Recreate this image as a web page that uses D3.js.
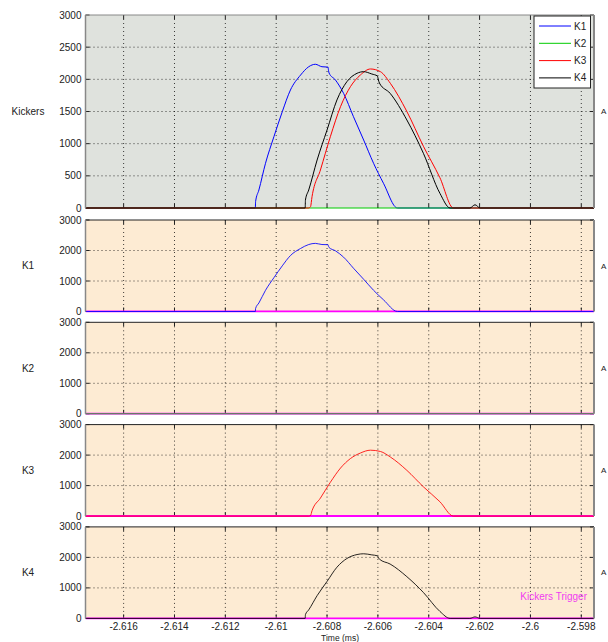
<!DOCTYPE html>
<html>
<head>
<meta charset="utf-8">
<script src="https://cdn.jsdelivr.net/npm/d3@7"></script>
<style>
  body { margin: 0; background: #fff; }
  svg text { font-family: "Liberation Sans", Arial, sans-serif; font-size: 10px; fill: #222; }
</style>
</head>
<body>
<div id="ChartContainer"></div>
<script>
// tick values
var xTicks = [-2.616, -2.614, -2.612, -2.61, -2.608, -2.606, -2.604, -2.602, -2.6, -2.598]
var kickersTicks = [0, 500, 1000, 1500, 2000, 2500, 3000]
var channelTicks = [0, 1000, 2000, 3000]
var panelLabels = ["Kickers", "K1", "K2", "K3", "K4"]
var channels = ["K1", "K2", "K3", "K4"]

// K1 trace (time in ms, value)
var k1Time = [-2.6175, -2.61082, -2.61081, -2.61068, -2.61042, -2.61009, -2.60976, -2.60944, -2.60904,
  -2.60872, -2.60846, -2.60820, -2.60796, -2.60794, -2.60792, -2.60767, -2.60735, -2.60696, -2.60656,
  -2.60617, -2.60578, -2.60523, -2.5975]
var k1Value = [0, 0, 100, 280, 695, 1108, 1497, 1834, 2067,
  2196, 2234, 2196, 2190, 2134, 2098, 1990, 1783, 1419, 1057,
  695, 384, 0, 0]

// K2 trace: flat
var k2Time = [-2.6175, -2.5975]
var k2Value = [0, 0]

// K3 trace
var k3Time = [-2.6175, -2.60872, -2.60865, -2.60859, -2.60826, -2.60787, -2.60747, -2.60708, -2.60669,
  -2.60629, -2.60590, -2.60551, -2.60486, -2.60421, -2.60356, -2.60303, -2.5975]
var k3Value = [0, 0, 20, 176, 591, 1108, 1575, 1886, 2067,
  2161, 2119, 1938, 1500, 960, 470, 0, 0]

// K4 trace
var k4Time = [-2.6175, -2.60886, -2.60885, -2.60872, -2.60839, -2.60800, -2.60761, -2.60722, -2.60682,
  -2.60656, -2.60624, -2.60602, -2.60598, -2.60594, -2.60552, -2.60486, -2.60421, -2.60356, -2.60316,
  -2.60238, -2.60218, -2.60198, -2.5975]
var k4Value = [0, 0, 124, 280, 746, 1212, 1679, 1963, 2094,
  2119, 2083, 2052, 1990, 1943, 1783, 1368, 850, 228, 0,
  0, 50, 0, 0]

// Kickers trigger
var triggerTime = [-2.6175, -2.5975]
var triggerValue = [0, 0]

var traces = {
  K1: { time: k1Time, value: k1Value, color: "#0000ff" },
  K2: { time: k2Time, value: k2Value, color: "#00cc00" },
  K3: { time: k3Time, value: k3Value, color: "#ff0000" },
  K4: { time: k4Time, value: k4Value, color: "#000000" },
}
var trigger = { time: triggerTime, value: triggerValue, color: "#ff00ff" }

var fullWidth = 608
var fullHeight = 642
var plotLeft = 85.5
var plotRight = 594
var tickLen = 4

var svg = d3.select("#ChartContainer").append("svg")
  .attr("width", fullWidth)
  .attr("height", fullHeight)

var x = d3.scaleLinear()
  .domain([-2.6175, -2.5975])
  .range([plotLeft, plotRight])

var toPoints = tr => tr.time.map((t, i) => [t, tr.value[i]])

var panels = panelLabels.map((label, i) => {
  if (i === 0) return { label: label, top: 15, height: 193, ticks: kickersTicks, bg: "#dfe2dd" }
  return { label: label, top: 220 + (i - 1) * 102.3, height: 91.5, ticks: channelTicks, bg: "#fdebd3" }
})

panels.forEach((p, i) => {
  var y = d3.scaleLinear()
    .domain([0, 3000])
    .range([p.top + p.height, p.top])

  var g = svg.append("g").attr("class", "Panel")

  g.append("rect")
    .attr("x", plotLeft)
    .attr("y", p.top)
    .attr("width", plotRight - plotLeft)
    .attr("height", p.height)
    .attr("fill", p.bg)

  // dotted grid
  g.selectAll(".GridX")
    .data(xTicks)
    .enter().append("line")
    .attr("x1", d => x(d)).attr("x2", d => x(d))
    .attr("y1", p.top).attr("y2", p.top + p.height)
    .attr("stroke", "#000")
    .attr("stroke-opacity", 0.75)
    .attr("stroke-dasharray", "1,3")
  g.selectAll(".GridY")
    .data(p.ticks.slice(1, -1))
    .enter().append("line")
    .attr("x1", plotLeft).attr("x2", plotRight)
    .attr("y1", d => y(d)).attr("y2", d => y(d))
    .attr("stroke", "#000")
    .attr("stroke-opacity", 0.75)
    .attr("stroke-dasharray", "1,3")

  // inward tick marks
  xTicks.forEach(d => {
    g.append("line")
      .attr("x1", x(d)).attr("x2", x(d))
      .attr("y1", p.top).attr("y2", p.top + tickLen)
      .attr("stroke", "#222")
    g.append("line")
      .attr("x1", x(d)).attr("x2", x(d))
      .attr("y1", p.top + p.height).attr("y2", p.top + p.height - tickLen)
      .attr("stroke", "#222")
  })
  p.ticks.forEach(d => {
    g.append("line")
      .attr("x1", plotLeft).attr("x2", plotLeft + tickLen)
      .attr("y1", y(d)).attr("y2", y(d))
      .attr("stroke", "#222")
    g.append("line")
      .attr("x1", plotRight).attr("x2", plotRight - tickLen)
      .attr("y1", y(d)).attr("y2", y(d))
      .attr("stroke", "#222")
  })

  // clip for traces
  var clipId = "clip" + i
  svg.append("clipPath").attr("id", clipId)
    .append("rect")
    .attr("x", plotLeft)
    .attr("y", p.top - 1)
    .attr("width", plotRight - plotLeft)
    .attr("height", p.height + 2)

  var line = d3.line()
    .x(d => x(d[0]))
    .y(d => y(d[1]))
    .curve(d3.curveMonotoneX)

  var traceG = g.append("g").attr("clip-path", `url(#${clipId})`)
  var shown = i === 0 ? channels : [channels[i - 1]]
  if (i > 0) {
    traceG.append("path")
      .datum(toPoints(trigger))
      .attr("d", line)
      .attr("fill", "none")
      .attr("stroke", trigger.color)
      .attr("stroke-width", 2)
  }
  shown.forEach(k => {
    traceG.append("path")
      .datum(toPoints(traces[k]))
      .attr("d", line)
      .attr("fill", "none")
      .attr("stroke", traces[k].color)
      .attr("stroke-width", 1)
      .attr("stroke-opacity", i > 0 ? 0.85 : 1)
  })

  // frame
  g.append("line")
    .attr("x1", plotLeft).attr("x2", plotRight)
    .attr("y1", p.top).attr("y2", p.top)
    .attr("stroke", i === 0 ? "#888" : "#222")
  g.append("line")
    .attr("x1", plotLeft).attr("x2", plotLeft)
    .attr("y1", p.top).attr("y2", p.top + p.height)
    .attr("stroke", "#888").attr("stroke-width", 1.5)
  g.append("line")
    .attr("x1", plotRight).attr("x2", plotRight)
    .attr("y1", p.top).attr("y2", p.top + p.height)
    .attr("stroke", "#888").attr("stroke-width", 2)

  // y tick labels
  g.selectAll(".YLabel")
    .data(p.ticks)
    .enter().append("text")
    .attr("x", plotLeft - 4)
    .attr("y", d => y(d))
    .attr("dy", "0.35em")
    .attr("text-anchor", "end")
    .text(d => d)

  // panel label
  g.append("text")
    .attr("x", 28)
    .attr("y", p.top + p.height / 2)
    .attr("dy", "0.35em")
    .attr("text-anchor", "middle")
    .text(p.label)

  // right-side label stub
  g.append("text")
    .attr("x", 601)
    .attr("y", p.top + p.height / 2)
    .attr("dy", "0.35em")
    .attr("fill", "#666")
    .style("font-size", "8px")
    .text("A")

  if (i === panels.length - 1) {
    g.selectAll(".XLabel")
      .data(xTicks)
      .enter().append("text")
      .attr("x", d => x(d))
      .attr("y", p.top + p.height + 12)
      .attr("text-anchor", "middle")
      .text(d => String(+d.toFixed(3)))

    g.append("text")
      .attr("x", plotRight - 7)
      .attr("y", p.top + p.height - 18)
      .attr("text-anchor", "end")
      .style("fill", "#f03cf0")
      .text("Kickers Trigger")
  }
})

// x-axis label
svg.append("text")
  .attr("x", 340)
  .attr("y", 641)
  .attr("text-anchor", "middle")
  .style("font-size", "8.5px")
  .text("Time (ms)")

// Legend
var legend = svg.append("g").attr("class", "Legend")
legend.append("rect")
  .attr("x", 534)
  .attr("y", 16)
  .attr("width", 56.5)
  .attr("height", 72)
  .attr("fill", "#fff")
  .attr("stroke", "#222")
channels.forEach((k, i) => {
  var ly = 26 + i * 17.3
  legend.append("line")
    .attr("x1", 539).attr("x2", 571)
    .attr("y1", ly).attr("y2", ly)
    .attr("stroke", traces[k].color)
  legend.append("text")
    .attr("x", 574)
    .attr("y", ly)
    .attr("dy", "0.35em")
    .text(k)
})
</script>
</body>
</html>
